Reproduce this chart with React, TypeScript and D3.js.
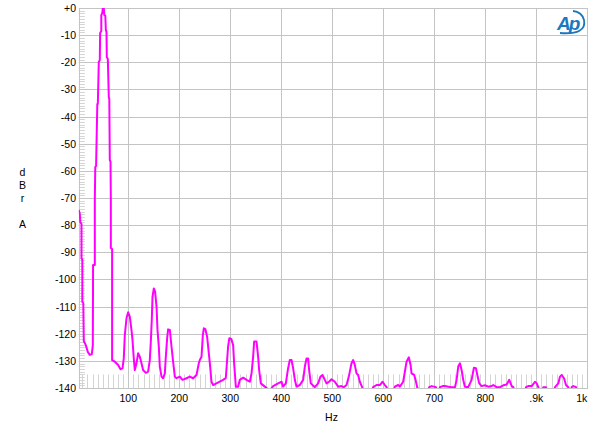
import React from "react";
import * as d3 from "d3";

const freqHz = [
  3, 5, 5.9, 8.3, 8.3, 9.9, 9.9, 11.8, 12.8, 16.7,
  20.6, 24.6, 28.5, 30.5, 31, 34.4, 34.4, 35.3, 36.9, 39.3,
  40.3, 42.2, 44.2, 44.8, 47.1, 47.1, 49.1, 50.1, 52, 53,
  55, 56, 57.3, 57.9, 59.9, 61.8, 62.8, 63.8, 65.2, 65.8,
  65.8, 68.3, 68.3, 73.6, 80.1, 84.8, 88.7, 91.2, 93.2, 96.5,
  99.7, 103, 106.3, 108.3, 110.8, 112.8, 116.1, 119.3, 122.6, 125.9,
  129.1, 134.4, 138.9, 142.2, 144.2, 146.1, 147.5, 150.1, 152.6, 155.4,
  157.3, 159.9, 161.8, 165.2, 168.3, 171.7, 173.6, 176.2, 178.1, 181.5,
  184.8, 187.9, 191.3, 194.6, 201, 206.3, 214.2, 220.7, 227.2, 233.8,
  238.3, 240.3, 243.6, 246.2, 248.1, 251.1, 254.6, 259.9, 263.2, 266.3,
  285.9, 291.2, 295.7, 298.1, 302, 305.6, 307.5, 310.9, 315.4, 318.7,
  325.2, 331.9, 338.3, 341.7, 344.8, 346.8, 351.5, 354.6, 356.6, 359.9,
  367.7, 377.5, 384, 393.8, 400.5, 403.6, 408.9, 413.4, 416.8, 420.1,
  423.2, 426.6, 429.9, 436.4, 442.9, 446.2, 449.5, 452.6, 454.6, 457.9,
  465.8, 472.2, 476.9, 480.9, 485.4, 488.7, 493.8, 498.5, 505, 511.5,
  518.1, 522.6, 527.9, 532.4, 537.7, 540.9, 544.2, 547.5, 550.7, 554,
  558.5, 561.8, 577.5, 580.1, 586.8, 593.3, 598.6, 603.1, 606.4, 609,
  620.7, 622.7, 629.2, 632.5, 639, 642.3, 645.6, 650.1, 653.5, 655.4,
  660.5, 663.3, 666.4, 669.7, 687.4, 690, 694.7, 699.2, 703.2, 706.1,
  709.1, 711, 716.3, 720.8, 727.3, 734, 740.5, 743.8, 746.9, 750.3,
  753.6, 756.7, 760, 766.5, 773.2, 777.7, 781.6, 785, 788.1, 792.8,
  799.3, 805.8, 812.5, 815.6, 822.3, 828.8, 835.3, 841.9, 847, 851.8,
  854.9, 857.3, 877.9, 879.8, 884.3, 891, 897.4, 900.8, 903.9, 906.3,
  912.2, 913.7, 919, 921, 934.7, 936.7, 943.1, 946.5, 949.8, 954.3,
  958.3, 962.8, 965.1, 968, 969.4, 972.6, 975.9, 977.9, 979.8,
];

const levelDb = [
  -74.4, -75.9, -78.8, -79.6, -92.1, -92.8, -108.3, -108.7, -122.7, -124.2,
  -126.7, -127.8, -127.5, -124.2, -94.7, -94.7, -70.7, -58.6, -58.2, -35.4,
  -35.4, -19.9, -19.2, -9.2, -8.5, -2.6, -1.8, 0, 0, -2.6,
  -2.9, -8.1, -8.8, -18.1, -18.8, -32.8, -33.5, -56, -56.7, -70.7,
  -88.4, -88.8, -129.7, -130.3, -131.5, -133.1, -132.7, -129.1, -120.5, -114.3,
  -112.1, -113.7, -118.6, -122.3, -129.1, -133.4, -130.9, -127.2, -128.5, -130.9,
  -133.4, -134.4, -134, -129.7, -122.9, -114.9, -106.4, -103.3, -104.5, -110,
  -118.6, -124.8, -132.1, -135.8, -136.4, -134.6, -128.5, -121.7, -118.4, -118.6,
  -124.8, -130.3, -135.8, -136.4, -135.8, -137, -136.4, -135.8, -136.4, -135.2,
  -130.9, -129.7, -128.5, -120.5, -118, -118.3, -121.1, -130.8, -137.7, -138.9,
  -137, -136.3, -124.8, -121.7, -121.9, -124.2, -130.8, -139.5, -139.5, -137,
  -136.2, -137, -137.7, -134.6, -128.5, -122.9, -122.9, -128.5, -133.4, -138.3,
  -139.5, -141, -139.3, -138.3, -137.7, -139.5, -138.3, -132.7, -129.7, -129.7,
  -132.7, -137, -139.5, -138.9, -137, -132.1, -129.1, -129.1, -133.4, -138.3,
  -139.7, -138.3, -135.8, -135.2, -137, -138.3, -137.7, -136.8, -137.7, -139.5,
  -139.3, -139.7, -138.9, -135.8, -130.9, -129.7, -131.5, -134.6, -135.2, -137.7,
  -139.7, -141, -141, -139.7, -138.9, -138.9, -137.7, -138.9, -139.7, -141,
  -141, -139.5, -138.9, -139.5, -137.7, -134, -130.3, -128.7, -131.5, -134.6,
  -135.2, -137, -139.7, -141, -141, -139.7, -139.3, -139.5, -139.7, -141,
  -141, -139.7, -139.3, -139.3, -139.5, -139.7, -139.7, -137, -132.1, -130.9,
  -133.4, -137, -139.5, -139.7, -137, -132.5, -132.7, -135.8, -138.3, -139.3,
  -139, -139.5, -139.3, -138.9, -139.7, -139.7, -139, -138.7, -137, -139.3,
  -139.7, -141, -141, -139.7, -139.3, -139.3, -137.7, -138.3, -139.7, -141,
  -141, -139.7, -139.7, -141, -141, -139.7, -138.3, -135.8, -135.2, -136.4,
  -138.9, -139.7, -141, -141, -139.7, -139.3, -139.5, -139.7, -141,
];

const xTickValues = [100, 200, 300, 400, 500, 600, 700, 800, 900, 1000];
const xTickLabels = ["100", "200", "300", "400", "500", "600", "700", "800", ".9k", "1k"];
const yTickValues = [0, -10, -20, -30, -40, -50, -60, -70, -80, -90, -100, -110, -120, -130, -140];
const yTickLabels = ["+0", "-10", "-20", "-30", "-40", "-50", "-60", "-70", "-80", "-90", "-100", "-110", "-120", "-130", "-140"];
const yTitleLetters = ["d", "B", "r", "", "A"];
const xTitle = "Hz";

export default function App() {
  const W = 600, H = 432;
  const left = 78.8, right = 587.3, top = 8, bottom = 388;
  const x = d3.scaleLinear().domain([3, 1000]).range([left, right]);
  const y = d3.scaleLinear().domain([-140, 0]).range([bottom, top]);

  const pts = freqHz.map((f, i) => [f, levelDb[i]] as [number, number]);
  const line = d3.line<[number, number]>().x(d => x(d[0])).y(d => y(d[1]));

  const minorY = d3.range(-139, 0, 1);
  const minorX = d3.range(10, 1000, 10);
  const font = "'Liberation Sans', Arial, sans-serif";

  return (
    <svg width={W} height={H} style={{ position: "absolute", left: 0, top: 0, background: "#fff" }}>
      <defs>
        <clipPath id="plot">
          <rect x={left} y={top} width={right - left} height={bottom - top} />
        </clipPath>
      </defs>
      <rect x={0} y={0} width={W} height={H} fill="#fff" />
      {minorY.map(v => (
        <line key={"my" + v} x1={left} x2={left + 6} y1={Math.round(y(v)) + 0.5} y2={Math.round(y(v)) + 0.5} stroke="#d4d4d4" strokeWidth={1} />
      ))}
      {minorX.map(v => (
        <line key={"mx" + v} x1={Math.round(x(v)) + 0.5} x2={Math.round(x(v)) + 0.5} y1={y(-135)} y2={bottom} stroke="#d4d4d4" strokeWidth={1} />
      ))}
      {yTickValues.map(v => (
        <line key={"gy" + v} x1={left} x2={right} y1={Math.round(y(v)) + 0.5} y2={Math.round(y(v)) + 0.5} stroke="#c4c4c4" strokeWidth={1} />
      ))}
      {xTickValues.map(v => (
        <line key={"gx" + v} x1={Math.round(x(v)) + 0.5} x2={Math.round(x(v)) + 0.5} y1={top} y2={bottom} stroke="#c4c4c4" strokeWidth={1} />
      ))}
      <rect x={Math.round(left) + 0.5} y={top + 0.5} width={Math.round(right) - Math.round(left)} height={bottom - top} fill="none" stroke="#c4c4c4" strokeWidth={1} />
      <path d={line(pts) || ""} fill="none" stroke="#ff00ff" strokeWidth={2} strokeLinejoin="round" clipPath="url(#plot)" />
      {yTickValues.map((v, i) => (
        <text key={"ty" + v} x={76} y={y(v) + 4} textAnchor="end" fontFamily={font} fontSize={10.5} fill="#000">{yTickLabels[i]}</text>
      ))}
      {xTickValues.map((v, i) => (
        <text key={"tx" + v} x={v === 1000 ? right : x(v)} y={402} textAnchor={v === 1000 ? "end" : "middle"} fontFamily={font} fontSize={10.5} fill="#000">{xTickLabels[i]}</text>
      ))}
      {yTitleLetters.map((c, i) => (
        <text key={"yl" + i} x={22.5} y={175.5 + i * 13} textAnchor="middle" fontFamily={font} fontSize={10.5} fill="#000">{c}</text>
      ))}
      <text x={331.5} y={420.5} textAnchor="middle" fontFamily={font} fontSize={10.5} fill="#000">{xTitle}</text>
      <g>
        <text x={557} y={30} fontFamily={font} fontSize={19} fontStyle="italic" fontWeight="bold" fill="#1b78bf" letterSpacing={-2}>Ap</text>
        <path d="M 560 33 Q 587 35 584 20 Q 582 12 573 11" fill="none" stroke="#1b78bf" strokeWidth={1.8} />
      </g>
    </svg>
  );
}
